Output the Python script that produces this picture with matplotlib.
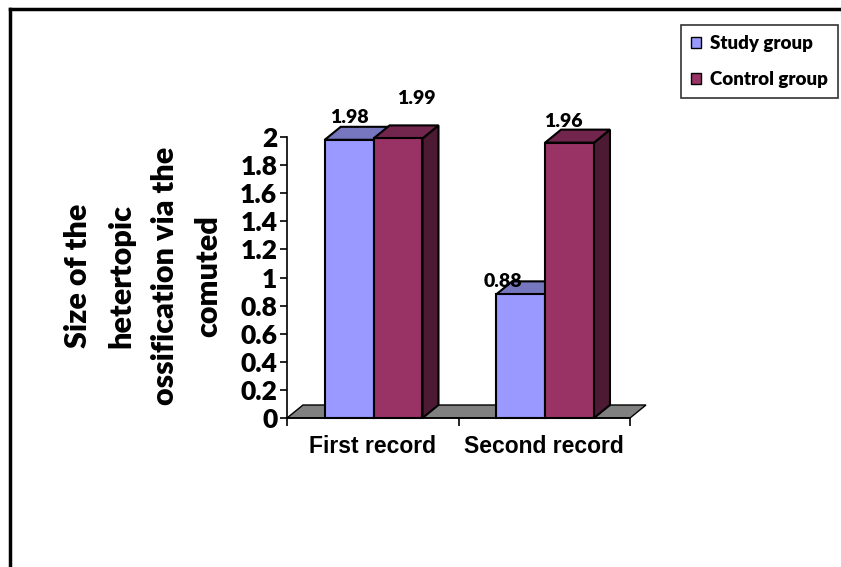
import matplotlib
matplotlib.use("Agg")
import matplotlib.pyplot as plt
from matplotlib.patches import Polygon, Patch
from matplotlib.lines import Line2D

categories = ["First record", "Second record"]
series_names = ["Study group", "Control group"]
study = [1.98, 0.88]
control = [1.99, 1.96]
yticks = [0, 0.2, 0.4, 0.6, 0.8, 1, 1.2, 1.4, 1.6, 1.8, 2]
ytick_labels = ["0", "0.2", "0.4", "0.6", "0.8", "1", "1.2", "1.4", "1.6", "1.8", "2"]
y_label = "Size of the\nhetertopic\nossification via the\ncomuted"

FONT = "Lato"
WEIGHT = "heavy"
W, H = 841, 567
fig = plt.figure(figsize=(W / 100, H / 100), dpi=100)
fig.patch.set_facecolor("white")

ax_l, ax_r, ax_t, ax_b = 287, 630, 137, 418
ax = fig.add_axes([ax_l / W, 1 - ax_b / H, (ax_r - ax_l) / W, (ax_b - ax_t) / H])
ax.set_xlim(0, 2)
ax.set_ylim(0, 2)
ax.patch.set_alpha(0)

# depth offsets (px -> data)
px_x = (ax_r - ax_l) / 2.0
px_y = (ax_b - ax_t) / 2.0
dx = 16 / px_x
dy = 13 / px_y

face_cols = {"Study group": ("#9999FF", "#7777BF", "#5A5A99"),
             "Control group": ("#993366", "#73264D", "#4D1A33")}

# floor
floor = Polygon([(0, 0), (2, 0), (2 + dx, dy), (dx, dy)], closed=True,
                facecolor="#808080", edgecolor="black", lw=1, clip_on=False, zorder=1)
ax.add_patch(floor)

w = 0.285
lw = 1.5

def bar3d(x0, h, name, z):
    front, top, side = face_cols[name]
    ax.add_patch(Polygon([(x0 + w, 0), (x0 + w + dx, dy), (x0 + w + dx, h + dy), (x0 + w, h)],
                         facecolor=side, edgecolor="black", lw=lw, clip_on=False, zorder=z))
    ax.add_patch(Polygon([(x0, h), (x0 + w, h), (x0 + w + dx, h + dy), (x0 + dx, h + dy)],
                         facecolor=top, edgecolor="black", lw=lw, clip_on=False, zorder=z))
    ax.add_patch(Polygon([(x0, 0), (x0 + w, 0), (x0 + w, h), (x0, h)],
                         facecolor=front, edgecolor="black", lw=lw, clip_on=False, zorder=z))

label_offsets = {("Study group", 0): (-8, 9), ("Control group", 0): (10, 27),
                 ("Study group", 1): (-26, 0), ("Control group", 1): (-14, 8)}

for i, c in enumerate(categories):
    cx = i + 0.5
    for j, (name, vals) in enumerate(zip(series_names, [study, control])):
        x0 = cx - 0.28 + j * w
        bar3d(x0, vals[i], name, 2 + j)
        ox, oy = label_offsets[(name, i)]
        ax.annotate(f"{vals[i]:.2f}", xy=(x0 + w / 2 + dx / 2, vals[i] + dy),
                    xytext=(ox * 0.72, oy * 0.72), textcoords="offset points",
                    ha="center", va="center", fontsize=14, fontweight=WEIGHT,
                    family=FONT, zorder=10, annotation_clip=False)

# axes styling
for s in ["top", "right"]:
    ax.spines[s].set_visible(False)
ax.spines["left"].set_linewidth(1.2)
ax.spines["bottom"].set_linewidth(1.2)
ax.set_yticks(yticks)
ax.set_yticklabels(ytick_labels, fontsize=19, fontweight=WEIGHT, family=FONT)
ax.tick_params(axis="y", direction="out", length=5, width=1.2, pad=2)
ax.set_xticks([0, 1, 2])
ax.set_xticklabels(["", "", ""])
ax.tick_params(axis="x", which="major", direction="out", length=6, width=1.2)
ax.set_xticks([0.5, 1.5], minor=True)
ax.set_xticklabels(categories, minor=True, fontsize=16.5, fontweight="bold",
                   family="Liberation Sans")
ax.tick_params(axis="x", which="minor", length=0, pad=12)

fig.text(143 / W, 1 - 276 / H, y_label, rotation=90, ha="center", va="center",
         fontsize=22, fontweight=WEIGHT, family=FONT, linespacing=1.68,
         multialignment="center")

# legend
handles = [Patch(facecolor=face_cols[n][0], edgecolor="black", lw=1) for n in series_names]
leg = fig.legend(handles, series_names, loc="upper right",
                 bbox_to_anchor=(838 / W, 1 - 25 / H), frameon=True, fancybox=False,
                 prop={"family": FONT, "weight": WEIGHT, "size": 13.5},
                 handlelength=0.55, handleheight=0.55, handletextpad=0.45,
                 labelspacing=1.0, borderpad=0.55, borderaxespad=0)
leg.get_frame().set_edgecolor("black")
leg.get_frame().set_linewidth(1.2)

# outer border (top and left)
fig.add_artist(Line2D([10 / W, 1.0], [1 - 9 / H, 1 - 9 / H], color="black", lw=2.5,
                      transform=fig.transFigure))
fig.add_artist(Line2D([10 / W, 10 / W], [1 - 9 / H, 0], color="black", lw=2.5,
                      transform=fig.transFigure))

fig.savefig("out.png", dpi=100)
